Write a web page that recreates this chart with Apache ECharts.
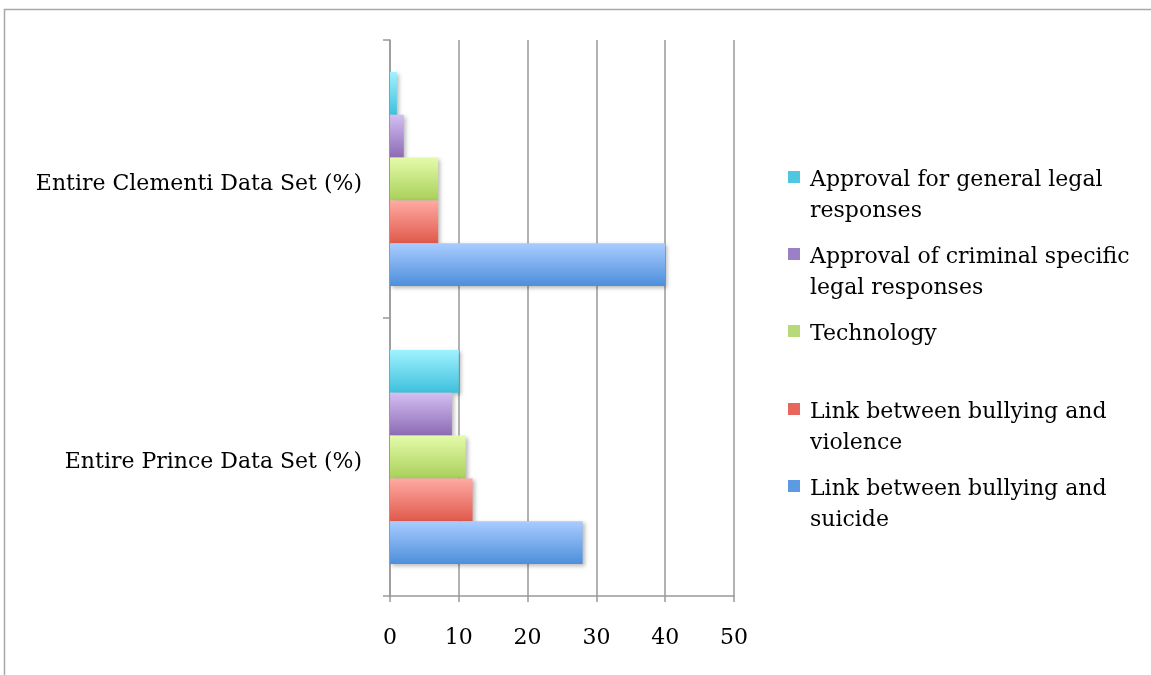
<!DOCTYPE html>
<html><head><meta charset="utf-8">
<script src="https://cdn.jsdelivr.net/npm/echarts@6/dist/echarts.min.js"></script>
<style>html,body{margin:0;padding:0;background:#fff}#c{width:1151px;height:675px}</style>
</head><body><div id="c"></div>
<script>
const categories = ['Entire Prince Data Set (%)', 'Entire Clementi Data Set (%)'];
const seriesNames = ['Approval for general legal responses', 'Approval of criminal specific legal responses', 'Technology', 'Link between bullying and violence', 'Link between bullying and suicide'];
const general = [10, 1];
const criminal = [9, 2];
const technology = [11, 7];
const violence = [12, 7];
const suicide = [28, 40];
const xTicks = [0, 10, 20, 30, 40, 50];

const values = [general, criminal, technology, violence, suicide];
const grads = [['#a0f2ff', '#3ec0dc'], ['#d3bff2', '#8c6ab4'], ['#e4fbaa', '#a9d05a'], ['#ffaaa3', '#df5a4c'], ['#a9ccff', '#4d8fdb']];
const legendColors = ['#4fc7e0', '#9c80c6', '#b8d977', '#e8665c', '#5a9be2'];
const wrapped = {
  'Link between bullying and suicide': 'Link between bullying and\nsuicide',
  'Link between bullying and violence': 'Link between bullying and\nviolence',
  'Technology': 'Technology',
  'Approval of criminal specific legal responses': 'Approval of criminal specific\nlegal responses',
  'Approval for general legal responses': 'Approval for general legal\nresponses'
};
const legendTops = [165, 242, 319, 397, 474];
const FONT = 'DejaVu Serif';

const chart = echarts.init(document.getElementById('c'));
const series = seriesNames.map((n, i) => ({
  name: n, type: 'bar', data: values[i], barGap: '0%', barCategoryGap: '23%',
  itemStyle: {
    color: new echarts.graphic.LinearGradient(0, 0, 0, 1, [{offset: 0, color: grads[i][0]}, {offset: 1, color: grads[i][1]}]),
    shadowColor: 'rgba(0,0,0,0.28)', shadowBlur: 4, shadowOffsetX: 2, shadowOffsetY: 2
  }
}));
const legends = seriesNames.map((n, i) => {
  const two = wrapped[n].indexOf('\n') >= 0;
  const H = two ? 50 : 19;
  return {
    data: [{name: n, itemStyle: {color: legendColors[i]}}], left: 788, top: legendTops[i], orient: 'vertical',
    itemWidth: 12, itemHeight: H, itemGap: 0, padding: 0, selectedMode: false,
    icon: 'path://M0,0L12,0L12,12L0,12Z M6,' + H + 'L6.01,' + H,
    formatter: name => wrapped[name],
    textStyle: {fontFamily: FONT, fontSize: 22, color: '#000', lineHeight: 31, padding: [0, 0, 0, 5]}
  };
});
chart.setOption({
  animation: false,
  backgroundColor: '#fff',
  graphic: [{type: 'rect', shape: {x: 4.5, y: 9.5, width: 1200, height: 800}, style: {fill: 'none', stroke: '#a8a8a8', lineWidth: 1.5}, silent: true}],
  legend: legends,
  grid: {left: 390, right: 417, top: 40, bottom: 79},
  xAxis: {
    type: 'value', min: 0, max: 50, interval: 10,
    axisLine: {show: true, lineStyle: {color: '#999', width: 1.5}},
    axisTick: {show: true, length: 6, lineStyle: {color: '#999', width: 1.5}},
    splitLine: {show: true, lineStyle: {color: '#999', width: 1.5}},
    axisLabel: {fontFamily: FONT, fontSize: 22, color: '#000', margin: 31, formatter: v => xTicks.indexOf(v) >= 0 ? String(v) : ''}
  },
  yAxis: {
    type: 'category', data: categories,
    axisLine: {show: true, lineStyle: {color: '#999', width: 1.5}},
    axisTick: {show: true, length: 7, lineStyle: {color: '#999', width: 1.5}},
    axisLabel: {fontFamily: FONT, fontSize: 22, color: '#000', margin: 28,
      formatter: v => '{a|' + v + '}',
      rich: {a: {fontFamily: FONT, fontSize: 22, color: '#000', padding: [10, 0, 0, 0]}}}
  },
  series: series
});
</script></body></html>
